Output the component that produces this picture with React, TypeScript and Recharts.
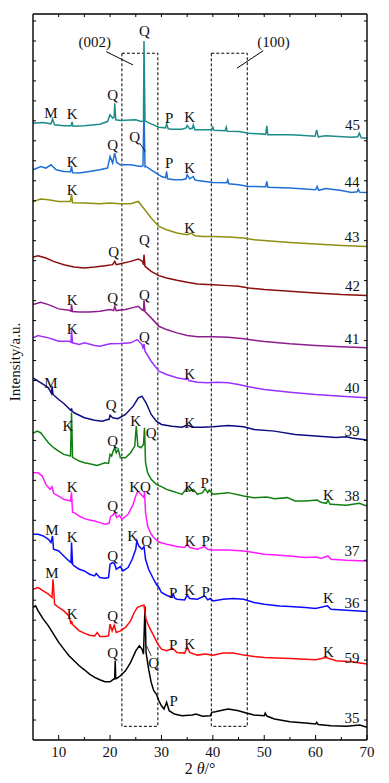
import { LineChart, Line, XAxis, YAxis, ReferenceArea, ReferenceLine, ReferenceDot } from 'recharts';

// XRD patterns, stacked. Each pair is [2θ (°), intensity incl. offset (a.u.)]
const s45: number[][] = [
  [5, 617.7], [7, 618.3], [8.5, 617], [8.8, 622], [9.2, 616], [11, 615], [12.4, 615], [12.6, 619], [12.8, 614.5],
  [15, 615], [18, 616.7], [19.5, 619.3], [20, 626], [20.5, 622.7], [20.8, 624], [20.9, 637.7], [21.1, 621],
  [22, 620.3], [25, 621], [26, 619.3], [26.5, 620], [26.6, 700], [26.8, 620], [27.5, 618], [28, 617],
  [29.5, 613.7], [30.8, 613], [31, 617], [31.3, 612], [32, 611.7], [34, 611.7], [34.8, 613], [35, 615.3],
  [35.5, 612], [36, 612.5], [36.2, 616], [36.5, 611], [37, 611], [39.8, 611], [40, 613.7], [40.2, 610.5],
  [42.4, 610], [42.6, 613.7], [42.8, 609.5], [45, 609.3], [47, 607.7], [50.3, 606.5], [50.5, 615],
  [50.7, 606], [55, 606], [57, 605.5], [59.9, 604.5], [60.2, 611], [60.5, 604], [62, 605], [67, 603.7],
  [68.2, 604], [68.5, 607.7], [68.9, 603], [70, 602.7],
];
const s44: number[][] = [
  [5, 571], [6.5, 574.3], [7.5, 572.7], [8.5, 576], [9.5, 571], [11, 569.3], [12.3, 569], [12.5, 574.3],
  [12.7, 568], [14, 567.7], [16, 569.3], [18, 571], [19.5, 572.7], [20, 584.3], [20.5, 577.7], [20.9, 587.7],
  [21.3, 578.3], [22, 576], [24, 576], [26, 574.3], [26.4, 575], [26.6, 632], [26.8, 574], [27, 574.3],
  [28, 571], [29.5, 566], [30, 564.3], [30.8, 563], [31, 569.3], [31.2, 562], [32.5, 561], [34, 561],
  [34.8, 562], [35, 566], [35.5, 562], [36.2, 564.3], [36.5, 561], [37, 560.3], [40, 558.3], [42.7, 558],
  [42.9, 561], [43.1, 557], [45, 556], [47, 554.3], [50.3, 554], [50.5, 559.3], [50.7, 553.5], [55, 552.7],
  [60, 551], [60.3, 554.3], [60.6, 550.5], [62, 552.3], [65, 550.3], [67, 548.3], [68.1, 549], [68.3, 551.7],
  [68.6, 548.5], [70, 548.3],
];
const s43: number[][] = [
  [5, 539.3], [6.5, 541.7], [8, 541], [10, 539.3], [12.3, 539.3], [12.5, 546.7], [12.7, 538], [15, 537.7],
  [18, 537], [20, 537.7], [22, 537], [24, 537], [25.5, 539.3], [26.5, 532.7], [28, 522.7], [29.5, 514.3],
  [31, 511], [33, 507.7], [35, 506], [35.8, 507.5], [36.5, 505], [38, 504.3], [40, 504.3], [43, 503.7],
  [46, 502.7], [48, 501], [55, 498.3], [60, 496.7], [65, 495.3], [70, 494.3],
];
const s42: number[][] = [
  [5, 483.7], [6, 485], [7.5, 482.7], [9, 479.3], [11, 476], [13, 473.7], [15, 472.7], [17, 473.7], [19, 475],
  [20.5, 476], [20.9, 479.3], [21.2, 476], [22, 477], [24, 479.3], [25.5, 481.7], [26.3, 479.3], [26.5, 476],
  [26.6, 486], [26.8, 474.3], [28, 469.3], [29.5, 465], [31, 462.7], [33, 460.3], [35, 458.3], [37, 456.7],
  [40, 456], [43, 455], [45, 454.3], [47, 452.7], [50, 451], [55, 449.3], [60, 447.7], [65, 446], [70, 445],
];
const s41: number[][] = [
  [5, 436], [6.5, 438.3], [8, 436], [10, 431.7], [12, 430.3], [12.4, 429.5], [12.5, 436], [12.7, 429],
  [14, 428.7], [16, 428.7], [18, 429.3], [20, 431], [20.7, 430], [20.9, 434.3], [21.2, 430], [23, 431],
  [25, 433.7], [25.5, 434.3], [26.3, 430.3], [26.5, 430], [26.6, 440.3], [26.8, 429], [28, 422.7],
  [29.5, 414.3], [31, 411], [33, 407.7], [35, 405], [37, 403.7], [40, 403.7], [43, 403.3], [46, 401.7],
  [48, 400.3], [50, 399], [55, 396.7], [60, 395], [65, 393.7], [70, 392.7],
];
const s40: number[][] = [
  [5, 402.7], [6, 405], [7, 403.7], [8, 402.7], [9, 401], [10, 399.3], [12, 399.3], [12.4, 398.5],
  [12.5, 410.3], [12.7, 397.7], [14, 396], [15, 397.7], [17, 395], [18, 394.3], [20, 396.7], [22, 397],
  [24, 397.7], [25.3, 401], [26.2, 396], [26.4, 392.7], [26.6, 396.7], [26.8, 389.3], [28, 379.3],
  [29.5, 369.3], [31, 366], [33, 362.7], [34.8, 361], [35, 362.7], [35.3, 360], [37, 358.3], [39, 357.7],
  [41, 358.3], [43, 357.7], [45, 356], [47, 353.7], [50, 351], [55, 348.3], [60, 346], [65, 344.3], [70, 342.7],
];
const s39: number[][] = [
  [5, 362.7], [6, 359.3], [7, 356], [8, 352.7], [8.6, 347], [8.7, 354.3], [8.9, 346], [10, 341], [11, 337],
  [12.4, 330], [12.5, 332], [12.6, 329.5], [13, 327.7], [15, 322.7], [17, 320.3], [18.5, 319.3], [19.5, 321],
  [19.8, 321], [20, 325.3], [20.5, 322.7], [21.5, 321.7], [23, 326], [24.5, 334.3], [25.5, 342.7],
  [26.2, 344.3], [27, 337.7], [28, 326], [29, 319.3], [30, 316], [32, 314.3], [34, 313.3], [35, 315.3],
  [36, 313.3], [38, 313.3], [40, 313.7], [43, 315], [46, 313.7], [48, 311], [52, 309.3], [56, 306],
  [60, 304.3], [64, 303], [66, 303.7], [67, 302.5], [70, 300.3],
];
const s38: number[][] = [
  [5, 307], [5.8, 309.3], [6.5, 307.7], [7, 304.3], [8, 297.7], [9, 292.7], [10, 289.3], [11, 286],
  [12.3, 284.3], [12.5, 328], [12.7, 283], [14, 279.3], [15, 277.7], [16, 276.7], [17.5, 275], [19, 277.7],
  [19.7, 277], [20, 286], [20.3, 284.3], [20.6, 289.3], [20.9, 292.7], [21.2, 287.7], [21.6, 291],
  [22, 282.7], [23, 282.7], [24, 287.7], [24.8, 294.3], [25.1, 314.3], [25.4, 294.3], [26, 292.7],
  [26.5, 296], [26.7, 312.7], [26.9, 277.7], [27.3, 267.7], [28, 261], [29, 256], [30, 253.7], [31, 251],
  [32, 249.3], [33, 247.7], [34, 246], [35, 252.7], [35.5, 249.3], [36.2, 251], [37, 246], [38, 247.7],
  [38.5, 251.7], [39, 247.7], [39.3, 250.3], [40, 246], [42, 247], [43, 247.7], [46, 244.3], [48, 242.7],
  [50.5, 243.3], [52, 241.7], [54.5, 242.7], [56, 239.3], [58, 239.3], [60.3, 240.3], [61, 238],
  [62.1, 237], [62.4, 240.3], [62.8, 236], [63, 236], [66, 235], [68.5, 237], [70, 234.3],
];
const s37: number[][] = [
  [5, 267.7], [6, 267.7], [6.8, 264.3], [7.5, 256], [8.3, 251], [8.7, 253.7], [9, 247], [10, 244.3],
  [11, 241], [12.3, 239.3], [12.5, 248], [12.7, 228], [13, 227.7], [14, 224.3], [15, 221.7], [16, 220.3],
  [17, 219.3], [18, 217.7], [19, 216], [19.8, 217], [20.1, 223.7], [20.5, 225], [20.9, 227.7], [21.3, 222.7],
  [21.8, 225], [22.3, 221], [23.5, 226], [24.5, 236], [25, 244.3], [25.4, 249.3], [25.8, 247], [26.3, 244.3],
  [26.6, 242.7], [26.7, 249.3], [26.9, 227.7], [27.3, 214.3], [28, 206], [28.5, 202.7], [29.5, 198.3],
  [31, 196], [33, 193.7], [34.5, 192.7], [35, 196], [35.5, 192.7], [37, 191], [38.4, 193.7], [39, 191],
  [40, 190.3], [43, 190.3], [46, 189.3], [48, 187.7], [50, 186], [53, 185], [55, 184.3], [58, 182.7],
  [60.2, 183.3], [61, 181.7], [62.4, 184.3], [63, 181], [66, 180], [70, 179.3],
];
const s36: number[][] = [
  [5, 206], [6, 206], [7, 204.3], [8, 201], [8.5, 197.7], [8.8, 204.3], [9, 191], [10, 189.3], [11, 184.3],
  [12, 179.3], [12.4, 177.7], [12.5, 197.7], [12.7, 176], [13, 174.3], [14, 171], [15, 169.3], [16, 166],
  [17, 164.3], [17.3, 166.7], [18, 162.7], [19, 162], [19.7, 162.7], [20, 176], [20.5, 177.7], [20.9, 176],
  [21.2, 171], [22, 173.7], [22.5, 169.3], [23.5, 172.7], [24.3, 181], [25, 191], [25.2, 199.3],
  [25.6, 194.3], [26.2, 191], [26.5, 192.7], [26.6, 194.3], [26.9, 181], [27.5, 171], [28.3, 162.7],
  [29, 156], [29.5, 152.7], [30, 147.7], [31, 145], [32, 143], [32.3, 146], [32.6, 142], [33, 141],
  [34.5, 140.3], [35, 145], [35.5, 141.7], [37, 141], [38.4, 144.3], [39, 140.3], [39.5, 141.7], [40, 139.3],
  [42, 141], [44, 141.7], [46, 141], [48, 137.7], [50, 136], [53, 134.3], [55, 133.7], [58, 132.7],
  [60, 131.7], [62.3, 134.3], [63, 131], [66, 130], [70, 128.7],
];
const s59: number[][] = [
  [5, 151], [6, 152.7], [7, 149.3], [8, 146], [8.7, 142.7], [8.9, 161], [9.2, 136], [10, 132.7], [11, 129.3],
  [12, 124.3], [12.4, 116], [12.5, 119.3], [12.7, 115.5], [13, 114.3], [14, 109.3], [15, 107], [16, 105],
  [17, 104.3], [17.5, 107.7], [18, 103.7], [19, 103.7], [19.7, 104.3], [20, 116], [20.4, 109.3], [20.8, 115],
  [21.2, 107.7], [22, 109.3], [23, 112.7], [24, 119.3], [24.7, 127.7], [25.3, 132.7], [26, 134.3],
  [26.6, 135], [27, 121], [27.5, 114.3], [28.5, 104.3], [29.3, 96], [30, 91], [31, 89.3], [32.2, 91.7],
  [33, 87.7], [34.5, 87], [35, 92.7], [35.5, 87.7], [37, 85], [38.5, 86], [40, 85], [42, 87], [44, 87],
  [46, 85], [48, 83.7], [50, 82.7], [55, 81.7], [60, 80.3], [62, 82.7], [64, 79.3], [67, 78.3], [70, 76],
];
const s35: number[][] = [
  [5, 132.7], [5.5, 134.3], [6, 129.3], [7, 121], [8, 114.3], [9, 106], [10, 97.7], [11, 91], [12, 84.3],
  [13, 79.3], [14, 74.3], [15, 70.3], [16, 66], [17, 62.7], [18, 60.3], [19, 58.3], [20, 58.3], [20.7, 61],
  [20.9, 61], [21, 79.3], [21.1, 61.7], [21.3, 61.7], [22, 64.3], [23, 69.3], [24, 77.7], [25, 89.3],
  [25.7, 94.3], [26.2, 91], [26.5, 86], [26.8, 134], [27, 87.7], [27.5, 71], [28, 57.7], [28.5, 49.3],
  [29, 46], [29.5, 39.3], [30, 34.3], [30.5, 31], [31, 37.7], [31.5, 29.3], [32.5, 26], [34, 24.3], [36, 25],
  [36.7, 26], [38, 23.7], [39.5, 24.3], [39.8, 27.7], [40.5, 28.3], [42, 30], [43, 31], [45, 29.3],
  [46.5, 27], [48, 25], [50, 24.3], [50.2, 27], [50.5, 24], [52, 21], [55, 18.3], [58, 17], [60, 16],
  [60.2, 17.7], [60.5, 15.5], [63, 14.3], [66, 13.7], [68.6, 15], [70, 12.7],
];

const sampleNames = ['35', '59', '36', '37', '38', '39', '40', '41', '42', '43', '44', '45'];
const sampleData = [s35, s59, s36, s37, s38, s39, s40, s41, s42, s43, s44, s45];
const sampleColors = ['#000000', '#ff0a0a', '#0a0aff', '#ff1aff', '#118011', '#0c0c80', '#9b30ff', '#8e1e8e',
  '#8b0d0d', '#8f8f12', '#1f6fd6', '#1b8c8a'];

// sample name tags at the right end: [2θ, y, text]
const nameTags: [number, number, string][] = [
  [67.2, 616, '45'], [67.1, 559.3, '44'], [67.1, 503.7, '43'], [67.2, 455, '42'], [67.1, 401.7, '41'],
  [67.1, 352.7, '40'], [67.1, 309.3, '39'], [67.1, 244.3, '38'], [67.1, 189.3, '37'], [67.1, 137.7, '36'],
  [67.1, 82.7, '59'], [67.1, 22.7, '35'],
];

// phase markers: M, K, Q, P
const phaseTags: [number, number, string][] = [
  [8.5, 628.3, 'M'], [12.6, 626.7, 'K'], [20.5, 646, 'Q'], [26.7, 710, 'Q'], [31.5, 622.7, 'P'], [35.5, 623.7, 'K'],
  [12.6, 579.3, 'K'], [20.5, 596, 'Q'], [24.8, 604.3, 'Q'], [31.5, 577.7, 'P'], [35.5, 572.7, 'K'],
  [12.6, 551, 'K'], [35.5, 512.7, 'K'],
  [20.7, 489.3, 'Q'], [26.7, 501, 'Q'],
  [12.6, 441, 'K'], [20.5, 442.7, 'Q'], [26.7, 446, 'Q'],
  [12.6, 411.7, 'K'], [26.7, 403.7, 'Q'], [35.5, 367, 'K'],
  [8.5, 358.3, 'M'], [20.2, 336, 'Q'], [35.5, 317.7, 'K'],
  [11.8, 314.3, 'K'], [20.5, 299.3, 'Q'], [25, 319.3, 'K'], [28, 307.7, 'Q'], [35.5, 253.7, 'K'],
  [38.4, 257.7, 'P'], [62.5, 246, 'K'],
  [12.6, 253.7, 'K'], [20.5, 234.3, 'Q'], [24.8, 253.7, 'K'], [26.9, 253.7, 'Q'], [35.6, 199.3, 'K'],
  [38.6, 199.3, 'P'],
  [8.7, 210.3, 'M'], [12.6, 203.7, 'K'], [20.5, 184.3, 'Q'], [24.4, 205, 'K'], [27.1, 199.3, 'Q'],
  [32.3, 147.7, 'P'], [35.5, 151, 'K'], [38.6, 148.3, 'P'], [62.5, 142.7, 'K'],
  [8.7, 167.7, 'M'], [12.6, 126, 'K'], [20.5, 124.3, 'Q'], [32.3, 95, 'P'], [35.5, 96, 'K'], [62.5, 88.3, 'K'],
  [20.5, 87, 'Q'], [28.5, 77, 'Q'], [32.4, 39.3, 'P'],
];

// dashed regions for the (002) and (100) bands
const bands = [
  { x1: 22.3, x2: 29.3, tag: '(002)', tagAt: [17, 699.3], lead: [[19.25, 689.3], [24.45, 676]] },
  { x1: 39.7, x2: 46.7, tag: '(100)', tagAt: [51.8, 699.3], lead: [[49.8, 690.3], [44.7, 672.7]] },
];
const bandBottom = 13.7;
const bandTop = 687.7;

// short leader lines from peak tags
const leaders = [
  [[25.75, 597.7], [26.9, 589.3]],
  [[27.1, 94.3], [28.0, 84.3]],
];

const xTicks = [10, 15, 20, 25, 30, 35, 40, 45, 50, 55, 60, 65, 70];
const yTicks = [20, 40, 60, 80, 100, 120, 140, 160, 180, 200, 220, 240, 260, 280, 300, 320, 340, 360, 380,
  400, 420, 440, 460, 480, 500, 520, 540, 560, 580, 600, 620, 640, 660, 680, 700, 720];

const FONT = "'Liberation Serif', 'Times New Roman', serif";

function BottomTick(props: any) {
  const { x, y, payload } = props;
  const major = payload.value % 10 === 0;
  return (
    <g>
      <line x1={x} x2={x} y1={y} y2={y - (major ? 5 : 3)} stroke="#000" />
      {major && (
        <text x={x} y={y + 17} textAnchor="middle" fontSize={15} fontFamily={FONT} fill="#111">
          {payload.value}
        </text>
      )}
    </g>
  );
}

function TopTick(props: any) {
  const { x, y, payload } = props;
  if (payload.value >= 70) return <g />;
  return <line x1={x} x2={x} y1={y} y2={y + 3} stroke="#000" />;
}

function LeftTick(props: any) {
  const { x, y } = props;
  return <line x1={x} x2={x + 3} y1={y} y2={y} stroke="#000" />;
}

function RightTick(props: any) {
  const { x, y } = props;
  return <line x1={x} x2={x - 3} y1={y} y2={y} stroke="#000" />;
}

function XTitle(props: any) {
  const { x, y, width } = props.viewBox;
  return (
    <text x={x + width / 2} y={y + 34} textAnchor="middle" fontSize={16} fontFamily={FONT} fill="#111">
      2 <tspan fontStyle="italic">θ</tspan>/°
    </text>
  );
}

function YTitle(props: any) {
  const { x, y, height } = props.viewBox;
  const cx = x + 15;
  const cy = y + height / 2 - 15;
  return (
    <text x={cx} y={cy} transform={`rotate(-90 ${cx} ${cy})`} textAnchor="middle" dominantBaseline="central"
      fontSize={15} fontFamily={FONT} fill="#111">
      Intensity/a.u.
    </text>
  );
}

export default function App() {
  const tagStyle = { fontSize: 15, fontFamily: FONT, fill: '#111' };
  return (
    <div style={{ position: 'absolute', left: 0, top: 0, background: '#fff' }}>
      <LineChart width={389} height={783} margin={{ top: 13, right: 21, bottom: 0, left: 0 }}>
        <XAxis xAxisId="b" type="number" dataKey="x" domain={[5, 70]} allowDataOverflow ticks={xTicks}
          interval={0} tickSize={0} tickMargin={0} tickLine={false} tick={<BottomTick />} height={43}
          stroke="#000" strokeWidth={1.4} label={<XTitle />} />
        <XAxis xAxisId="t" orientation="top" type="number" dataKey="x" domain={[5, 70]} allowDataOverflow
          ticks={xTicks} interval={0} tickSize={0} tickMargin={0} tickLine={false} tick={<TopTick />} height={1}
          stroke="#000" strokeWidth={1.4} />
        <YAxis yAxisId="l" type="number" domain={[0, 727]} allowDataOverflow ticks={yTicks} interval={0}
          tickSize={0} tickMargin={0} tickLine={false} tick={<LeftTick />} width={33} stroke="#000"
          strokeWidth={1.4} label={<YTitle />} />
        <YAxis yAxisId="r" orientation="right" type="number" domain={[0, 727]} allowDataOverflow ticks={yTicks}
          interval={0} tickSize={0} tickMargin={0} tickLine={false} tick={<RightTick />} width={1} stroke="#000"
          strokeWidth={1.4} />

        {bands.map((b) => (
          <ReferenceArea key={b.tag} xAxisId="b" yAxisId="l" x1={b.x1} x2={b.x2} y1={bandBottom} y2={bandTop}
            fill="none" fillOpacity={0} stroke="#000" strokeWidth={1} strokeDasharray="3 2" />
        ))}

        {sampleData.map((pts, i) => (
          <Line key={sampleNames[i]} xAxisId="b" yAxisId="l" data={pts.map(([x, y]) => ({ x, y }))} dataKey="y"
            type="linear" stroke={sampleColors[i]} strokeWidth={1.5} dot={false} activeDot={false}
            isAnimationActive={false} />
        ))}

        {bands.map((b) => (
          <ReferenceLine key={b.tag + 'l'} xAxisId="b" yAxisId="l" stroke="#000" strokeWidth={1}
            segment={[{ x: b.lead[0][0], y: b.lead[0][1] }, { x: b.lead[1][0], y: b.lead[1][1] }]} />
        ))}
        {leaders.map((l, i) => (
          <ReferenceLine key={'ld' + i} xAxisId="b" yAxisId="l" stroke="#000" strokeWidth={0.8}
            segment={[{ x: l[0][0], y: l[0][1] }, { x: l[1][0], y: l[1][1] }]} />
        ))}
        {bands.map((b) => (
          <ReferenceDot key={b.tag + 't'} xAxisId="b" yAxisId="l" x={b.tagAt[0]} y={b.tagAt[1]} r={0}
            fill="none" stroke="none" label={{ value: b.tag, position: 'center', ...tagStyle }} />
        ))}
        {phaseTags.map(([x, y, t], i) => (
          <ReferenceDot key={'p' + i} xAxisId="b" yAxisId="l" x={x} y={y} r={0} fill="none" stroke="none"
            label={{ value: t, position: 'center', ...tagStyle }} />
        ))}
        {nameTags.map(([x, y, t]) => (
          <ReferenceDot key={'n' + t} xAxisId="b" yAxisId="l" x={x} y={y} r={0} fill="none" stroke="none"
            label={{ value: t, position: 'center', ...tagStyle }} />
        ))}
      </LineChart>
    </div>
  );
}
